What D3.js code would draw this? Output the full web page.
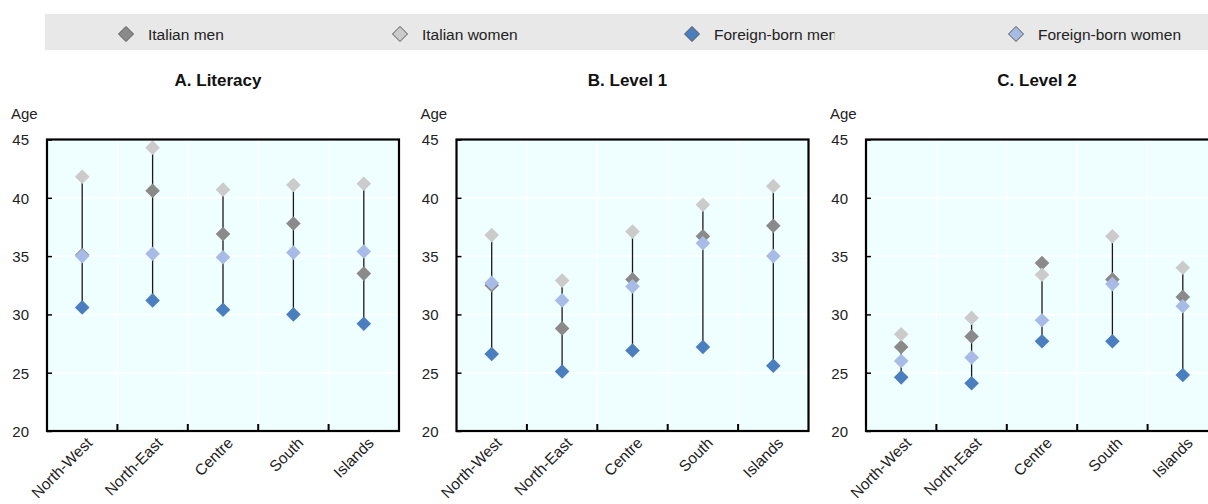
<!DOCTYPE html>
<html>
<head>
<meta charset="utf-8">
<script src="https://cdn.jsdelivr.net/npm/d3@7"></script>
<style>
  html, body { margin: 0; padding: 0; background: #ffffff; }
  svg { display: block; font-family: "Liberation Sans", Arial, sans-serif; }
</style>
</head>
<body>
<script>
// Regions on the x axis and the three skill panels
const regions = ["North-West", "North-East", "Centre", "South", "Islands"];
const panelTitles = ["A. Literacy", "B. Level 1", "C. Level 2"];
const yTicks = [20, 25, 30, 35, 40, 45];

// Average age by group, one row per panel (Literacy, Level 1, Level 2)
const italianMen = [
  [35.1, 40.6, 36.9, 37.8, 33.5],
  [32.5, 28.8, 33.0, 36.7, 37.6],
  [27.2, 28.1, 34.4, 33.0, 31.5]
];
const italianWomen = [
  [41.8, 44.3, 40.7, 41.1, 41.2],
  [36.8, 32.9, 37.1, 39.4, 41.0],
  [28.3, 29.7, 33.4, 36.7, 34.0]
];
const foreignBornMen = [
  [30.6, 31.2, 30.4, 30.0, 29.2],
  [26.6, 25.1, 26.9, 27.2, 25.6],
  [24.6, 24.1, 27.7, 27.7, 24.8]
];
const foreignBornWomen = [
  [35.0, 35.2, 34.9, 35.3, 35.4],
  [32.7, 31.2, 32.4, 36.1, 35.0],
  [26.0, 26.3, 29.5, 32.6, 30.7]
];

const seriesNames = ["Italian men", "Italian women", "Foreign-born men", "Foreign-born women"];
const seriesColors = ["#8a8a8a", "#cbcbcb", "#4a7ebf", "#a8bbe6"];
const seriesValues = [italianMen, italianWomen, foreignBornMen, foreignBornWomen];

const series = seriesNames.map((name, i) => ({ name, color: seriesColors[i], values: seriesValues[i] }));

const W = 1208, H = 504;
const svg = d3.select("body").append("svg").attr("width", W).attr("height", H);
const defs = svg.append("defs");

const diamond = r => `M0,${-r}L${r},0L0,${r}L${-r},0Z`;

// ---- Legend strip ----
const legend = svg.append("g");
legend.append("rect")
  .attr("x", 45).attr("y", 14).attr("width", W - 45).attr("height", 36)
  .attr("fill", "#e8e8e8");

const legendPos = [126, 400, 692, 1016];
series.forEach((s, i) => {
  const lx = legendPos[i];
  const item = legend.append("g");
  item.append("path")
    .attr("d", diamond(7.5))
    .attr("transform", `translate(${lx},34)`)
    .attr("fill", s.color)
    .attr("stroke", "#555")
    .attr("stroke-width", 1);
  const t = item.append("text")
    .attr("x", lx + 22).attr("y", 39.5)
    .attr("font-size", "15.5px")
    .attr("fill", "#222")
    .text(s.name);
  // each legend entry is clipped to its cell
  const len = t.node().getComputedTextLength();
  const cellWidth = i === 2 ? len - 2.6 : len + 10;
  const cid = "legclip" + i;
  defs.append("clipPath").attr("id", cid)
    .append("rect").attr("x", lx + 20).attr("y", 14).attr("width", cellWidth + 2).attr("height", 36);
  t.attr("clip-path", `url(#${cid})`);
});

// ---- Panels ----
const plotTop = 139.5, plotBottom = 431, plotWidth = 352, panelStep = 409.5;

panelTitles.forEach((title, p) => {
  const left = 47 + p * panelStep;
  const g = svg.append("g");

  const x = d3.scaleBand().domain(regions).range([left, left + plotWidth]).padding(0);
  const y = d3.scaleLinear().domain([20, 45]).range([plotBottom, plotTop]);

  // title and axis caption
  g.append("text")
    .attr("x", left + plotWidth / 2 - 5).attr("y", 86)
    .attr("text-anchor", "middle")
    .attr("font-weight", "bold").attr("font-size", "17px")
    .attr("fill", "#111")
    .text(title);
  g.append("text")
    .attr("x", left - 36).attr("y", 119)
    .attr("font-size", "15px").attr("fill", "#222")
    .text("Age");

  // plot background
  g.append("rect")
    .attr("x", left).attr("y", plotTop)
    .attr("width", plotWidth).attr("height", plotBottom - plotTop)
    .attr("fill", "#effefe");

  // white grid
  g.selectAll(".hgrid").data(yTicks.slice(1, -1)).join("line")
    .attr("x1", left).attr("x2", left + plotWidth)
    .attr("y1", d => y(d)).attr("y2", d => y(d))
    .attr("stroke", "#ffffff").attr("stroke-width", 1.5);
  const bounds = regions.slice(1).map(r => x(r));
  g.selectAll(".vgrid").data(bounds).join("line")
    .attr("x1", d => d).attr("x2", d => d)
    .attr("y1", plotTop).attr("y2", plotBottom)
    .attr("stroke", "#ffffff").attr("stroke-width", 1.5);

  // high-low connector for each region
  regions.forEach((r, i) => {
    const vals = series.map(s => s.values[p][i]);
    g.append("line")
      .attr("x1", x(r) + x.bandwidth() / 2).attr("x2", x(r) + x.bandwidth() / 2)
      .attr("y1", y(d3.max(vals))).attr("y2", y(d3.min(vals)))
      .attr("stroke", "#1a1a1a").attr("stroke-width", 1.3);
  });

  // markers
  series.forEach(s => {
    g.selectAll(null).data(s.values[p]).join("path")
      .attr("d", diamond(7.3))
      .attr("transform", (d, i) => `translate(${x(regions[i]) + x.bandwidth() / 2},${y(d)})`)
      .attr("fill", s.color);
  });

  // frame
  g.append("rect")
    .attr("x", left).attr("y", plotTop)
    .attr("width", plotWidth).attr("height", plotBottom - plotTop)
    .attr("fill", "none").attr("stroke", "#000").attr("stroke-width", 2.2);

  // category boundary ticks on the bottom edge
  g.selectAll(".xtick").data(bounds).join("line")
    .attr("x1", d => d).attr("x2", d => d)
    .attr("y1", plotBottom).attr("y2", plotBottom - 7)
    .attr("stroke", "#000").attr("stroke-width", 2);

  // y axis labels with small inward ticks
  const yAxis = d3.axisLeft(y).tickValues(yTicks).tickSizeInner(-5).tickSizeOuter(0).tickPadding(18);
  const ya = g.append("g").attr("transform", `translate(${left},0)`).call(yAxis);
  ya.select(".domain").remove();
  ya.selectAll(".tick line").attr("stroke", "#000").attr("stroke-width", 1.5);
  ya.selectAll(".tick text")
    .attr("font-family", "Liberation Sans, Arial, sans-serif")
    .attr("font-size", "15px").attr("fill", "#222")
    .attr("dy", "0.36em");

  // rotated region labels
  const xAxis = d3.axisBottom(x).tickSize(0).tickPadding(0);
  const xa = g.append("g").attr("transform", `translate(0,${plotBottom})`).call(xAxis);
  xa.select(".domain").remove();
  xa.selectAll(".tick text")
    .attr("font-family", "Liberation Sans, Arial, sans-serif")
    .attr("font-size", "15.5px").attr("fill", "#222")
    .attr("text-anchor", "end")
    .attr("dy", null).attr("y", null)
    .attr("transform", "translate(11,13) rotate(-45)");
});
</script>
</body>
</html>
